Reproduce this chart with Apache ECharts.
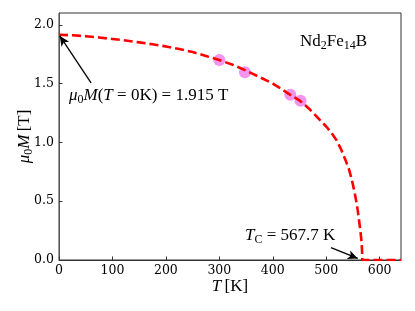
<!DOCTYPE html>
<html>
<head>
<meta charset="utf-8">
<script src="https://cdn.jsdelivr.net/npm/echarts@6/dist/echarts.min.js"></script>
<style>html,body{margin:0;padding:0;background:#fff;}#c{width:415px;height:311px;}</style>
</head>
<body>
<div id="c"></div>
<script>
// Fitted curve mu0*M(T)
const curveT = [0,25,50,75,100,125,150,175,200,225,250,275,300,325,350,375,400,410,420,430,440,450,460,470,480,490,500,510,519,528,536,543,548,552,555.8,558.9,561.4,563.9,565.8,567,567.7,600,640];
const curveM = [1.915,1.911,1.903,1.892,1.879,1.866,1.850,1.834,1.816,1.794,1.768,1.735,1.700,1.660,1.610,1.556,1.500,1.472,1.442,1.412,1.384,1.357,1.319,1.277,1.230,1.182,1.135,1.080,1.021,0.940,0.851,0.766,0.681,0.600,0.511,0.426,0.340,0.252,0.170,0.090,0.0,0.0,0.0];
// Measured points
const dataT = [300,348,433,452];
const dataM = [1.70,1.597,1.405,1.353];
// Axis ticks
const xTicks = [0,100,200,300,400,500,600];
const yTicks = [0.0,0.5,1.0,1.5,2.0];
// Annotation arrows (data coordinates: from -> to)
const arrowM0 = [[60,1.506],[1.5,1.905]];
const arrowTc = [[509,0.105],[559,0.013]];

const serif = 'DejaVu Serif';
const mfont = 'Liberation Serif';
const richMath = {
  i:{fontFamily:mfont,fontStyle:'italic',fontSize:17,color:'#000',lineHeight:20,verticalAlign:'middle'},
  n:{fontFamily:mfont,fontSize:17,color:'#000',lineHeight:20,verticalAlign:'middle'},
  s:{fontFamily:mfont,fontSize:12,color:'#000',lineHeight:13,verticalAlign:'bottom'}
};

const chart = echarts.init(document.getElementById('c'), null, {renderer:'canvas'});
chart.setOption({
  animation:false,
  backgroundColor:'#fff',
  grid:{left:59,right:14,top:13,bottom:51,show:true,borderColor:'#333',borderWidth:1,backgroundColor:'transparent'},
  xAxis:{
    type:'value',min:0,max:640,interval:100,
    name:'{i|T} {n|[K]}',nameLocation:'middle',nameGap:17,nameMoveOverlap:false,
    nameTextStyle:{rich:richMath},
    axisLine:{show:true,onZero:false,lineStyle:{color:'#333',width:1}},
    axisTick:{show:true,inside:true,length:3.5,lineStyle:{color:'#333'}},
    axisLabel:{fontFamily:serif,fontSize:12.5,color:'#000',margin:4,showMaxLabel:false,
      formatter:function(v){return xTicks.indexOf(v)>=0?String(v):'';}},
    splitLine:{show:false}
  },
  yAxis:{
    type:'value',min:0,max:2.1,interval:0.5,
    name:'{i|μ}{s|0}{i|M} {n|[T]}',nameLocation:'middle',nameGap:24,nameMoveOverlap:false,
    nameTextStyle:{rich:richMath},
    axisLine:{show:true,onZero:false,lineStyle:{color:'#555',width:1}},
    axisTick:{show:true,inside:true,length:3.5,lineStyle:{color:'#333'}},
    axisLabel:{fontFamily:serif,fontSize:12.5,color:'#000',margin:5,showMaxLabel:false,
      formatter:function(v){return yTicks.indexOf(v)>=0?v.toFixed(1):'';}},
    splitLine:{show:false}
  },
  series:[
    {
      type:'scatter',
      data:dataT.map((t,i)=>[t,dataM[i]]),
      symbol:'circle',symbolSize:12,
      itemStyle:{color:'#EE82EE',opacity:0.85},
      z:2
    },
    {
      type:'line',
      data:curveT.map((t,i)=>[t,curveM[i]]),
      showSymbol:false,symbol:'none',
      smooth:false,
      lineStyle:{color:'#ff0000',width:2.6,type:[9,4]},
      z:3,
      markLine:{
        silent:true,
        symbol:['none','arrow'],symbolSize:[7,10],
        label:{show:false},
        lineStyle:{color:'#000',width:1.3,type:'solid'},
        data:[
          [{coord:arrowM0[0]},{coord:arrowM0[1]}],
          [{coord:arrowTc[0]},{coord:arrowTc[1]}]
        ]
      }
    }
  ],
  graphic:[
    {type:'text',left:69,top:87,style:{text:'{i|μ}{s|0}{i|M}{n|(}{i|T}{n| = 0K) = 1.915 T}',rich:richMath}},
    {type:'text',left:300,top:33,style:{text:'{n|Nd}{s|2}{n|Fe}{s|14}{n|B}',rich:richMath}},
    {type:'text',left:245,top:227,style:{text:'{i|T}{s|C}{n| = 567.7 K}',rich:richMath}}
  ]
});
</script>
</body>
</html>
